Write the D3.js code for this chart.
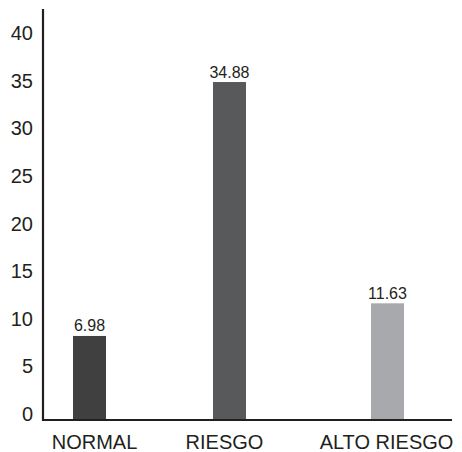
<!DOCTYPE html>
<html><head><meta charset="utf-8">
<script src="https://cdn.jsdelivr.net/npm/d3@7"></script>
<style>body{margin:0;background:#fff}svg{display:block}text{font-family:"Liberation Sans",Arial,sans-serif}</style>
</head><body><svg id="c" width="462" height="452"></svg>
<script>
const categories = ["NORMAL", "RIESGO", "ALTO RIESGO"];
const barValues = [8.2, 34.88, 11.63];          // bar heights as drawn
const valueLabels = ["6.98", "34.88", "11.63"]; // printed labels
const barColors = ["#404041", "#58595b", "#a7a9ac"];
const yTicks = [0, 5, 10, 15, 20, 25, 30, 35, 40];

const svg = d3.select("#c");
const axisX = 43, axisY = 420;
const y = d3.scaleLinear().domain([0, 40]).range([414, 33.3]);
const x = d3.scaleOrdinal().domain(categories).range([89.5, 229.5, 387.5]);
const barW = 33;

// bars
svg.selectAll("rect.bar").data(categories).join("rect")
  .attr("x", d => x(d) - barW / 2)
  .attr("y", (d, i) => y(barValues[i]))
  .attr("width", barW)
  .attr("height", (d, i) => axisY - y(barValues[i]))
  .attr("fill", (d, i) => barColors[i]);

// value labels
svg.selectAll("text.val").data(categories).join("text")
  .attr("x", d => x(d))
  .attr("y", (d, i) => y(barValues[i]) - 4.5)
  .attr("text-anchor", "middle")
  .attr("font-size", 16)
  .attr("fill", "#231f20")
  .text((d, i) => valueLabels[i]);

// y tick labels
svg.selectAll("text.tick").data(yTicks).join("text")
  .attr("x", 33)
  .attr("y", d => y(d))
  .attr("dy", "0.35em")
  .attr("text-anchor", "end")
  .attr("font-size", 20)
  .attr("fill", "#231f20")
  .text(d => d);

// category labels
svg.selectAll("text.cat").data(categories).join("text")
  .attr("x", (d, i) => x(d) + [5, -5, -1][i])
  .attr("y", 449)
  .attr("text-anchor", "middle")
  .attr("font-size", 20)
  .attr("fill", "#231f20")
  .text(d => d);

// axes
svg.append("line").attr("x1", axisX).attr("x2", axisX).attr("y1", 9).attr("y2", axisY + 1)
  .attr("stroke", "#231f20").attr("stroke-width", 2.2);
svg.append("line").attr("x1", axisX - 1).attr("x2", 452).attr("y1", axisY).attr("y2", axisY)
  .attr("stroke", "#231f20").attr("stroke-width", 2);
</script></body></html>
